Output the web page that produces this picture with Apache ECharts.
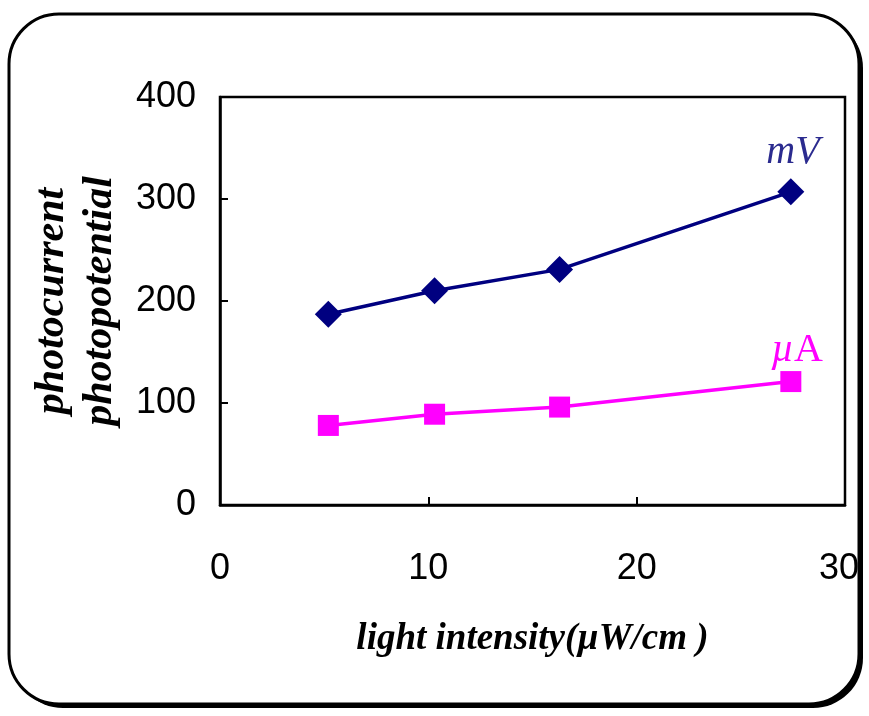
<!DOCTYPE html>
<html>
<head>
<meta charset="utf-8">
<script src="https://cdn.jsdelivr.net/npm/echarts@6/dist/echarts.min.js"></script>
<style>
  html, body { margin: 0; padding: 0; background: #fff; }
  #chart { width: 869px; height: 716px; }
</style>
</head>
<body>
<div id="chart"></div>
<script>
// light intensity (µW/cm²)
var intensity = [5.2, 10.3, 16.3, 27.4];
// photopotential, mV
var mvValues = [187, 210, 231, 307];
// photocurrent, µA
var uaValues = [78, 89, 96, 121];

var xTicks = [0, 10, 20, 30];
var yTicks = [0, 100, 200, 300, 400];

function pairs(xs, ys) {
  return xs.map(function (x, i) { return [x, ys[i]]; });
}

var serif = '"Liberation Serif", "Times New Roman", serif';
var sans = '"Liberation Sans", Arial, sans-serif';

var chart = echarts.init(document.getElementById('chart'));

var option = {
  backgroundColor: '#fff',
  animation: false,
  // 外框：黑色阴影 + 白底圆角框
  graphic: [
    {
      type: 'rect',
      z: -20,
      shape: { x: 13, y: 18, width: 850, height: 690, r: 50 },
      style: { fill: '#000' }
    },
    {
      type: 'rect',
      z: -10,
      shape: { x: 9, y: 14, width: 850, height: 690, r: 50 },
      style: { fill: '#fff', stroke: '#000', lineWidth: 3 }
    },
    {
      type: 'text',
      x: 793, y: 152,
      style: {
        text: 'mV',
        fill: '#2B2B8F',
        font: 'italic 40px ' + serif,
        textAlign: 'center',
        textVerticalAlign: 'middle'
      }
    },
    {
      type: 'text',
      x: 797, y: 350,
      style: {
        text: '{u|µ}{a|A}',
        textAlign: 'center',
        textVerticalAlign: 'middle',
        rich: {
          u: { fill: '#FF00FF', font: 'italic 40px ' + serif },
          a: { fill: '#FF00FF', font: '40px ' + serif }
        }
      }
    }
  ],
  grid: {
    show: true,
    left: 220, right: 24, top: 97, bottom: 211,
    outerBoundsMode: 'none',
    containLabel: false,
    borderColor: '#000',
    borderWidth: 2.5,
    backgroundColor: 'transparent'
  },
  xAxis: {
    type: 'value',
    min: xTicks[0],
    max: xTicks[xTicks.length - 1],
    interval: 10,
    name: 'light intensity(µW/cm )',
    nameLocation: 'middle',
    nameGap: 116,
    nameTextStyle: {
      fontFamily: serif,
      fontStyle: 'italic',
      fontWeight: 'bold',
      fontSize: 37,
      color: '#000'
    },
    axisLine: { show: true, lineStyle: { color: '#000', width: 2.5 } },
    axisTick: { show: true, inside: true, length: 8, lineStyle: { color: '#000', width: 2 } },
    axisLabel: {
      margin: 46,
      fontFamily: sans,
      fontSize: 36,
      color: '#000',
      formatter: function (v) {
        return v === xTicks[xTicks.length - 1] ? '{m|' + v + '}' : String(v);
      },
      rich: {
        m: { fontFamily: sans, fontSize: 36, color: '#000', padding: [0, 12, 0, 0] }
      }
    },
    splitLine: { show: false }
  },
  yAxis: {
    type: 'value',
    min: yTicks[0],
    max: yTicks[yTicks.length - 1],
    interval: 100,
    name: 'photocurrent\nphotopotential',
    nameLocation: 'middle',
    nameRotate: 90,
    nameGap: 96,
    nameTextStyle: {
      fontFamily: serif,
      fontStyle: 'italic',
      fontWeight: 'bold',
      fontSize: 42,
      lineHeight: 48,
      color: '#000'
    },
    axisLine: { show: true, lineStyle: { color: '#000', width: 2.5 } },
    axisTick: { show: true, inside: true, length: 8, lineStyle: { color: '#000', width: 2 } },
    axisLabel: {
      margin: 24,
      fontFamily: sans,
      fontSize: 36,
      color: '#000'
    },
    splitLine: { show: false }
  },
  series: [
    {
      name: 'mV',
      type: 'line',
      data: pairs(intensity, mvValues),
      symbol: 'diamond',
      symbolSize: 27,
      itemStyle: { color: '#000080' },
      lineStyle: { color: '#000080', width: 3.5 }
    },
    {
      name: 'µA',
      type: 'line',
      data: pairs(intensity, uaValues),
      symbol: 'rect',
      symbolSize: 21,
      itemStyle: { color: '#FF00FF' },
      lineStyle: { color: '#FF00FF', width: 3.5 }
    }
  ]
};

chart.setOption(option);
</script>
</body>
</html>
